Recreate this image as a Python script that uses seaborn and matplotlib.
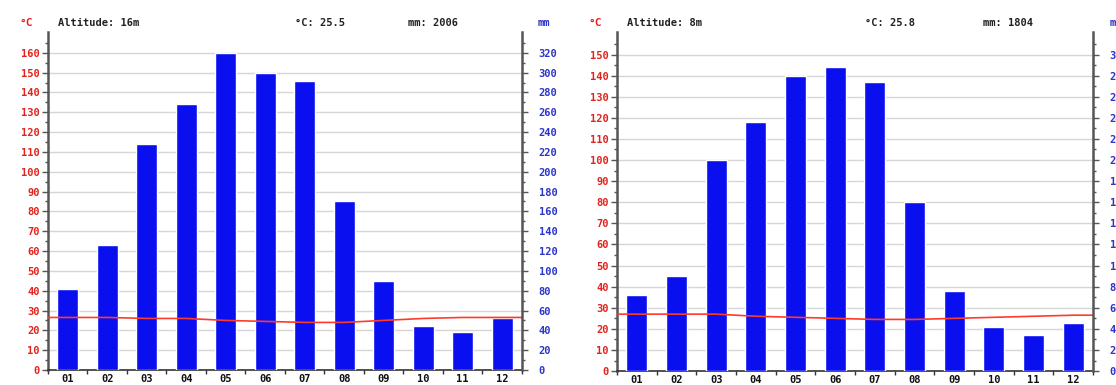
import pandas as pd
import seaborn as sns
import matplotlib.pyplot as plt
from matplotlib.ticker import FixedLocator

months = ['01', '02', '03', '04', '05', '06', '07', '08', '09', '10', '11', '12']

# left station
left_precip = [82, 126, 228, 268, 320, 300, 292, 170, 90, 44, 38, 52]  # mm
left_temp = [26.5, 26.5, 26.0, 26.0, 25.0, 24.5, 24.0, 24.0, 25.0, 26.0, 26.5, 26.5]  # degC
left_info = ['Altitude: 16m', '°C: 25.5', 'mm: 2006']

# right station
right_precip = [72, 90, 200, 236, 280, 288, 274, 160, 76, 42, 34, 46]
right_temp = [27.0, 27.0, 27.0, 26.0, 25.5, 25.0, 24.5, 24.5, 25.0, 25.5, 26.0, 26.5]
right_info = ['Altitude: 8m', '°C: 25.8', 'mm: 1804']

sns.set_style('white')
plt.rcParams['font.family'] = ['DejaVu Sans Mono']
plt.rcParams['font.weight'] = 'bold'

RED = '#e4221c'
BLUE = '#2b35c8'
BAR = '#0a0ff0'
AXC = '#555555'


def climate(ax, precip, temp, info, tmax, tlabmax, info_x):
    ax.set_xlim(-0.5, 11.5)
    ax.set_ylim(0, tmax)
    ax.yaxis.set_major_locator(FixedLocator(range(0, tlabmax + 1, 10)))
    ax.yaxis.set_minor_locator(FixedLocator(range(5, tlabmax + 6, 10)))
    ax.grid(axis='y', which='major', color='#d6d6d6', lw=1)
    ax.tick_params(axis='y', which='major', colors=AXC, labelcolor=RED,
                   length=4, width=1, labelsize=7.5, pad=2)
    ax.tick_params(axis='y', which='minor', colors=AXC, length=2.5, width=1)
    for s in ['top', 'right']:
        ax.spines[s].set_visible(False)
    ax.spines['left'].set_color(AXC)
    ax.spines['left'].set_linewidth(1.8)
    ax.spines['bottom'].set_color('#333333')
    ax.spines['bottom'].set_linewidth(1.2)

    axr = ax.twinx()
    df = pd.DataFrame({'month': months, 'mm': precip})
    sns.barplot(data=df, x='month', y='mm', ax=axr, color=BAR, width=0.53,
                saturation=1, errorbar=None)
    # temperature drawn on the mm scale (2 mm = 1 degC)
    tx = [-0.5] + list(range(12)) + [11.5]
    ty = [temp[0] * 2] + [t * 2 for t in temp] + [temp[-1] * 2]
    sns.lineplot(x=tx, y=ty, ax=axr, color='#ff3a2a', lw=1.2, sort=False,
                 estimator=None)
    axr.set_xlim(-0.5, 11.5)
    axr.set_ylim(0, tmax * 2)
    axr.set_xlabel('')
    axr.set_ylabel('')
    axr.yaxis.set_major_locator(FixedLocator(range(0, tlabmax * 2 + 1, 20)))
    axr.yaxis.set_minor_locator(FixedLocator(range(10, tlabmax * 2 + 11, 20)))
    axr.tick_params(axis='y', which='major', colors=AXC, labelcolor=BLUE,
                    length=4, width=1, labelsize=7.5, pad=8)
    axr.tick_params(axis='y', which='minor', colors=AXC, length=2.5, width=1)
    for s in ['top', 'left', 'bottom']:
        axr.spines[s].set_visible(False)
    axr.spines['right'].set_color(AXC)
    axr.spines['right'].set_linewidth(1.8)

    # month labels at centres, ticks between months (shared x axis of ax)
    ax.xaxis.set_major_locator(FixedLocator(range(12)))
    ax.set_xticklabels(months)
    ax.xaxis.set_minor_locator(FixedLocator([i - 0.5 for i in range(13)]))
    ax.tick_params(axis='x', which='major', length=0, labelsize=7.5,
                   labelcolor='#111111', pad=3)
    ax.tick_params(axis='x', which='minor', bottom=True, length=3, width=1,
                   colors='#333333')

    ty_txt = 1.012
    ax.text(-0.045, ty_txt, '°C', color=RED, fontsize=8, ha='center',
            va='bottom', transform=ax.transAxes)
    ax.text(1.034, ty_txt, 'mm', color=BLUE, fontsize=7.5, ha='left',
            va='bottom', transform=ax.transAxes)
    for x, s in zip(info_x, info):
        ax.text(x, ty_txt, s, color='#222222', fontsize=7.5, ha='left',
                va='bottom', transform=ax.transAxes)


fig = plt.figure(figsize=(11.16, 3.85), dpi=100)
ax1 = fig.add_axes([0.043, 0.039, 0.4247, 0.878])
ax2 = fig.add_axes([0.553, 0.036, 0.4265, 0.880])
climate(ax1, left_precip, left_temp, left_info, 170.5, 160, [0.021, 0.521, 0.759])
climate(ax2, right_precip, right_temp, right_info, 160.5, 150, [0.021, 0.521, 0.769])
fig.savefig('out.png', dpi=100, facecolor='white')
